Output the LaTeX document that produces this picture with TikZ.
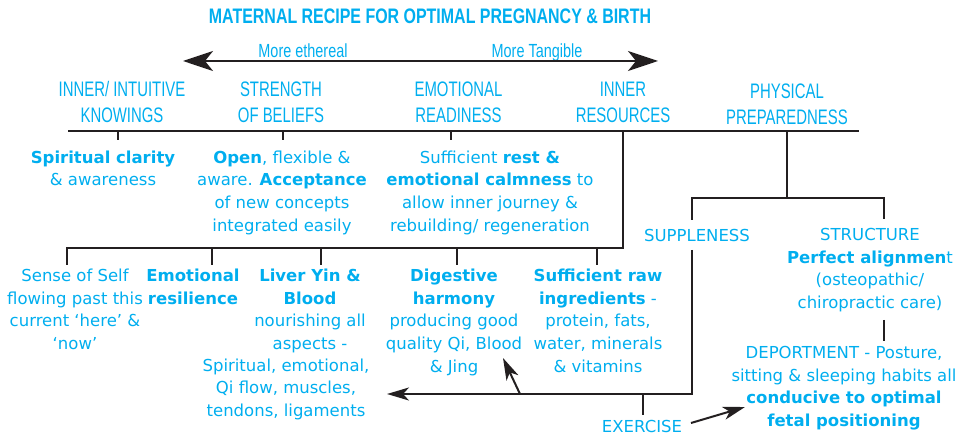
\documentclass[tikz,border=0pt]{standalone}
\usepackage{fontspec}
\setmainfont{DejaVu Sans}
\newfontfamily\hdrfont[FakeStretch=0.71]{Liberation Sans}
\newfontfamily\ttlfont[FakeStretch=0.76]{Liberation Sans}
\usetikzlibrary{arrows.meta}
\definecolor{cyanc}{HTML}{00AEEF}
\definecolor{linec}{HTML}{231F20}
\begin{document}
\begin{tikzpicture}[x=1pt,y=-1pt,
  body/.style={text=cyanc,font=\fontsize{16.5}{22.6}\selectfont,align=center,inner sep=0pt,anchor=base},
  hdr/.style={text=cyanc,font=\hdrfont\fontsize{21}{26}\selectfont,align=center,inner sep=0pt,anchor=base},
  small/.style={text=cyanc,font=\ttlfont\fontsize{19}{22}\selectfont,inner sep=0pt,anchor=base},
  conn/.style={draw=linec,line width=2.3pt,line join=miter},
  bigtip/.style={{Stealth[length=30pt,width=20pt,inset=8pt]}-{Stealth[length=30pt,width=20pt,inset=8pt]}},
  smalltip/.style={-{Stealth[length=22pt,width=13pt,inset=6pt]}}]
\useasboundingbox (0,0) rectangle (956,435);

% title and scale arrow
\node[hdr,font=\ttlfont\bfseries\fontsize{21}{26}\selectfont] (title) at (430,24) {MATERNAL RECIPE FOR OPTIMAL PREGNANCY \& BIRTH};
\node[small] (ether) at (303,57.3) {More ethereal};
\node[small] (tang) at (537,57.3) {More Tangible};
\coordinate (arrL) at (183,61);
\coordinate (arrR) at (658,61);
\draw[conn,line width=2pt,bigtip] (arrL) -- (arrR);

% headers (anchor = baseline of last line)
\node[hdr] (h1) at (122,122.7) {INNER/ INTUITIVE\\KNOWINGS};
\node[hdr] (h2) at (281,122.7) {STRENGTH\\OF BELIEFS};
\node[hdr] (h3) at (458.5,122.7) {EMOTIONAL\\READINESS};
\node[hdr] (h4) at (623,122.7) {INNER\\RESOURCES};
\node[hdr] (h5) at (787,124.3) {PHYSICAL\\PREPAREDNESS};

% top rule and ticks
\coordinate (topL) at (68,131);
\coordinate (topR) at (859,131);
\draw[conn] (topL) -- (topR);
\coordinate (k1) at (118,131); \coordinate (k1e) at (118,140);
\coordinate (k2) at (283,131); \coordinate (k2e) at (283,140);
\coordinate (k3) at (451,131); \coordinate (k3e) at (451,140);
\draw[conn] (k1) -- (k1e);
\draw[conn] (k2) -- (k2e);
\draw[conn] (k3) -- (k3e);

% first row texts
\node[body] (spir) at (103,185.9) {\textbf{Spiritual clarity}\\\& awareness};
\node[body] (open) at (282,231.1) {\textbf{Open}, flexible \&\\aware. \textbf{Acceptance}\\of new concepts\\integrated easily};
\node[body] (rest) at (490,231.1) {Sufficient \textbf{rest \&}\\\textbf{emotional calmness} to\\allow inner journey \&\\rebuilding/ regeneration};

% inner resources branch
\coordinate (k4) at (623,131);
\coordinate (r4) at (623,248);
\coordinate (b1) at (67,248);
\coordinate (b1e) at (67,265);
\draw[conn] (k4) -- (r4) -- (b1) -- (b1e);
\coordinate (b2) at (212,248); \coordinate (b2e) at (212,265);
\coordinate (b3) at (321,248); \coordinate (b3e) at (321,265);
\coordinate (b4) at (457,248); \coordinate (b4e) at (457,265);
\coordinate (b5) at (597,248); \coordinate (b5e) at (597,265);
\draw[conn] (b2) -- (b2e);
\draw[conn] (b3) -- (b3e);
\draw[conn] (b4) -- (b4e);
\draw[conn] (b5) -- (b5e);

% physical branch
\coordinate (k5) at (787,131);
\coordinate (p5) at (787,198);
\draw[conn] (k5) -- (p5);
\coordinate (pL) at (692,198); \coordinate (pLe) at (692,220);
\coordinate (pR) at (884,198); \coordinate (pRe) at (884,219);
\draw[conn] (pLe) -- (pL) -- (pR) -- (pRe);

\node[body] (supp) at (697,241.7) {SUPPLENESS};
\node[body] (struct) at (870,308.5) {STRUCTURE\\\textbf{Perfect alignmen}t\\(osteopathic/\\chiropractic care)};

% second row texts
\node[body] (sense) at (75,349.5) {Sense of Self\\flowing past this\\current ‘here’ \&\\‘now’};
\node[body] (emo) at (193,304.3) {\textbf{Emotional}\\\textbf{resilience}};
\node[body] (liver) at (310,349.5) {\textbf{Liver Yin \&}\\\textbf{Blood}\\nourishing all\\aspects -};
\node[body] (liverb) at (286,416.5) {Spiritual, emotional,\\Qi flow, muscles,\\tendons, ligaments};
\node[body] (dig) at (454,372.1) {\textbf{Digestive}\\\textbf{harmony}\\producing good\\quality Qi, Blood\\\& Jing};
\node[body] (raw) at (598,372.1) {\textbf{Sufficient raw}\\\textbf{ingredients} -\\protein, fats,\\water, minerals\\\& vitamins};

% suppleness line
\coordinate (s1) at (692,250);
\coordinate (s2) at (692,394);
\coordinate (sTip) at (387,394);
\draw[conn,line width=2pt,smalltip] (s1) -- (s2) -- (sTip);
\coordinate (jb) at (520,394);
\coordinate (jt) at (503,358);
\draw[conn,line width=2pt,smalltip] (jb) -- (jt);
\coordinate (xs) at (643,394);
\coordinate (xe) at (643,415);
\draw[conn,line width=2pt] (xs) -- (xe);
\node[body] (ex) at (642,432.3) {EXERCISE};
\coordinate (xa) at (691,423);
\coordinate (xb) at (745,407);
\draw[conn,line width=2pt,smalltip] (xa) -- (xb);

% structure stub and deportment
\coordinate (st1) at (884,320);
\coordinate (st2) at (884,341);
\draw[conn] (st1) -- (st2);
\node[body] (dep) at (844,426.5) {DEPORTMENT - Posture,\\sitting \& sleeping habits all\\\textbf{conducive to optimal}\\\textbf{fetal positioning}};
\end{tikzpicture}
\end{document}
